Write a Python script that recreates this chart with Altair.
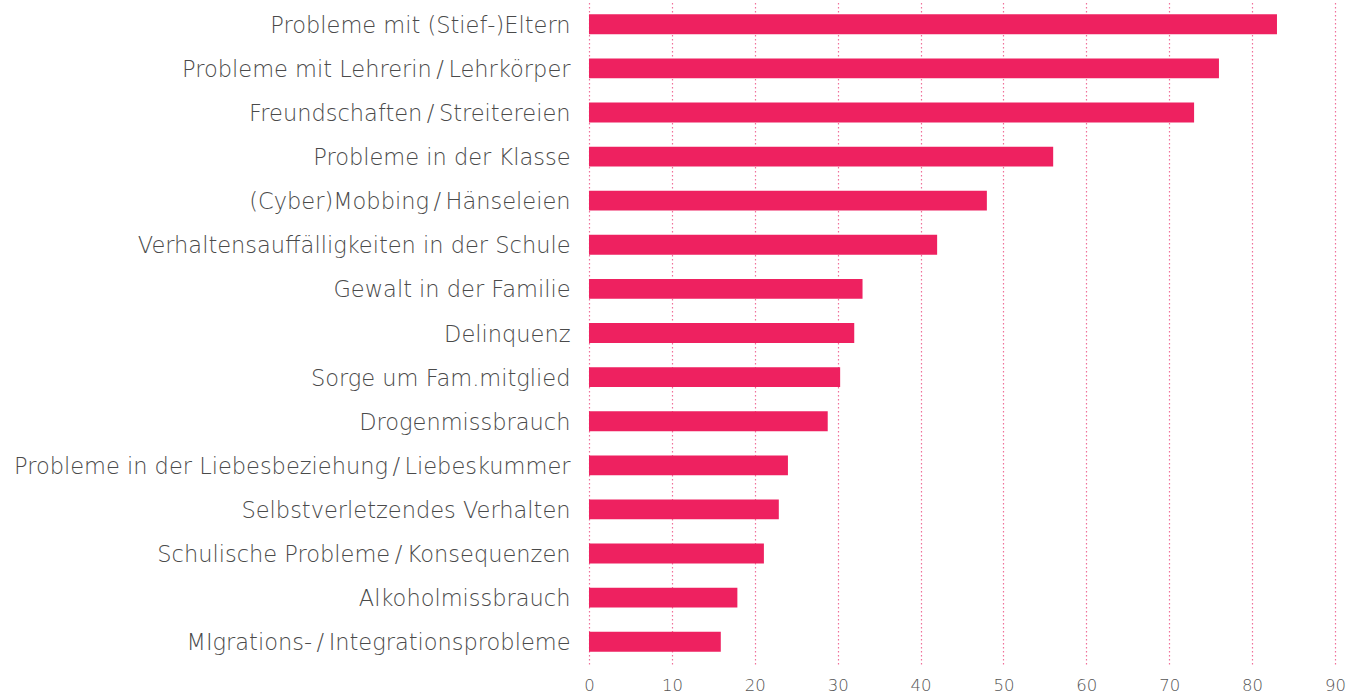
import altair as alt
import pandas as pd

categories = [
    "Probleme mit (Stief-)Eltern",
    "Probleme mit Lehrerin\u2009/\u2009Lehrkörper",
    "Freundschaften\u2009/\u2009Streitereien",
    "Probleme in der Klasse",
    "(Cyber)Mobbing\u2009/\u2009Hänseleien",
    "Verhaltensauffälligkeiten in der Schule",
    "Gewalt in der Familie",
    "Delinquenz",
    "Sorge um Fam.mitglied",
    "Drogenmissbrauch",
    "Probleme in der Liebesbeziehung\u2009/\u2009Liebeskummer",
    "Selbstverletzendes Verhalten",
    "Schulische Probleme\u2009/\u2009Konsequenzen",
    "Alkoholmissbrauch",
    "MIgrations-\u2009/\u2009Integrationsprobleme",
]
values = [83, 76, 73, 56, 48, 42, 33, 32, 30.3, 28.8, 24, 22.9, 21.1, 17.9, 15.9]
x_ticks = [0, 10, 20, 30, 40, 50, 60, 70, 80, 90]

df = pd.DataFrame({"cat": categories, "val": values})

chart = alt.Chart(df).mark_bar(color="#EE2160").encode(
    x=alt.X("val:Q", scale=alt.Scale(domain=[0, 90], nice=False),
            axis=alt.Axis(values=x_ticks, title=None, grid=True, gridColor="#F0709A",
                          gridDash=[1.5, 2.5], gridWidth=1.2, domain=False, ticks=False,
                          labelFont="DejaVu Sans", labelFontWeight=200, labelFontSize=16.5,
                          labelColor="#555555", labelPadding=13, labelFlush=False)),
    y=alt.Y("cat:N", sort=categories, title=None,
            scale=alt.Scale(paddingInner=0.55, paddingOuter=0.28),
            axis=alt.Axis(domain=False, ticks=False, grid=False, labelFont="DejaVu Sans",
                          labelFontWeight=200, labelFontSize=22.5, labelColor="#4a4a4a",
                          labelPadding=19, labelLimit=0, labelOffset=1.5)),
).properties(
    width=746, height=662,
    autosize=alt.AutoSizeParams(type="none"),
    padding={"left": 589, "top": 2, "right": 15, "bottom": 32},
).configure_view(stroke=None)

chart.save("out.html", embed_options={"renderer": "svg", "actions": False})
